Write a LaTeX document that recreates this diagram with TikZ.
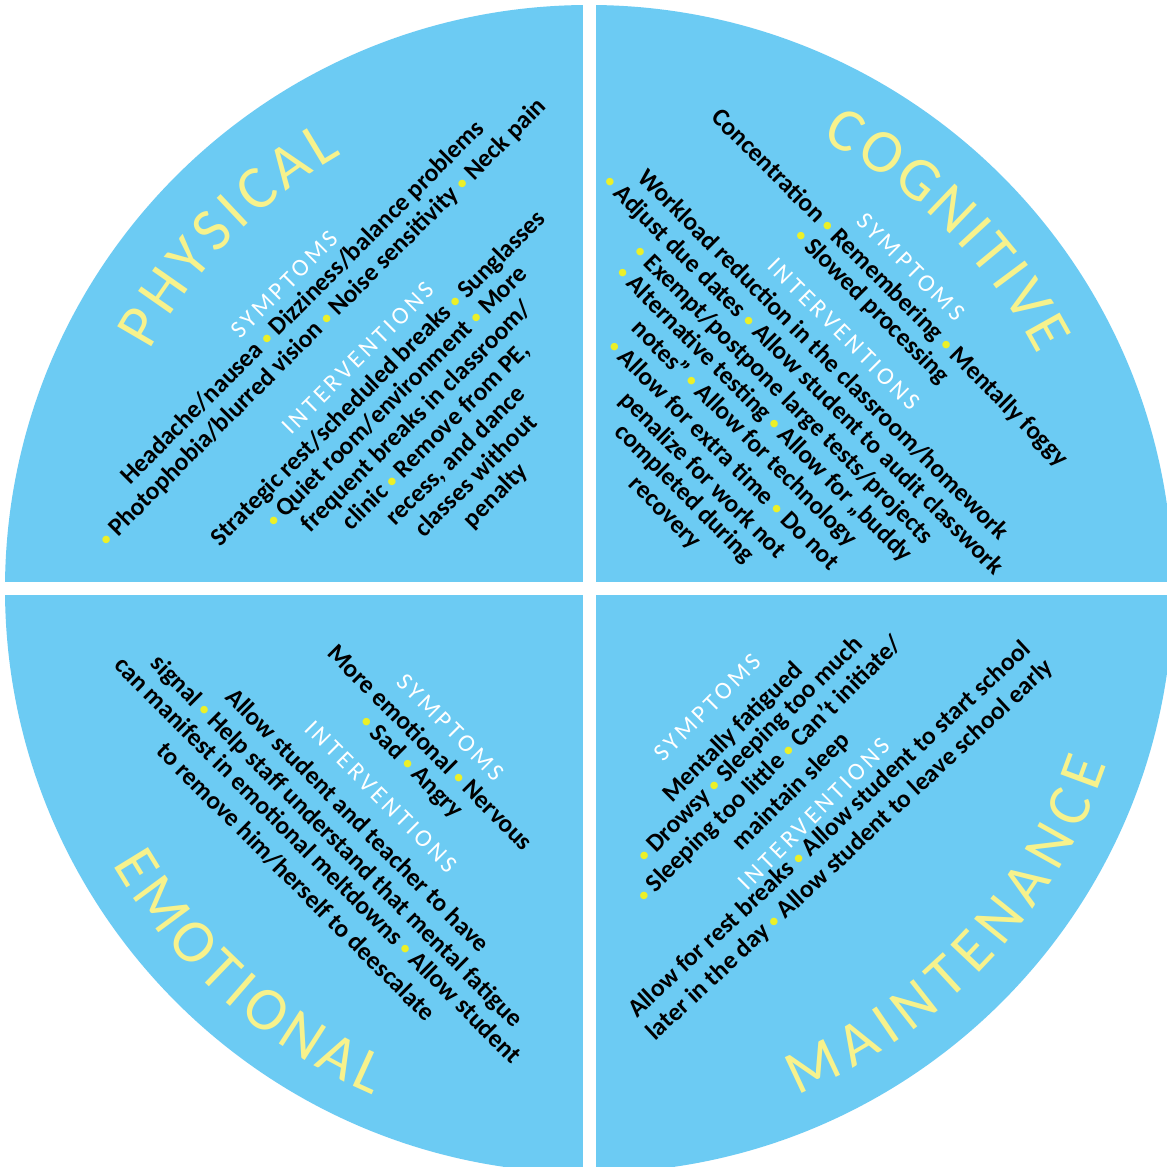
\documentclass[tikz,border=0pt]{standalone}
\usepackage{fontspec}
\setmainfont{Carlito}
\newfontfamily\headfont[LetterSpace=14]{Carlito}
\newfontfamily\titlefont{Carlito}
\usepackage{tikz}
\usetikzlibrary{decorations.text}

\definecolor{quadblue}{RGB}{108,203,243}
\definecolor{titleyellow}{RGB}{247,242,140}
\definecolor{dotyellow}{RGB}{236,240,40}

\newcommand{\bul}{{\color{dotyellow}\raisebox{.15ex}{\fontsize{5}{5}\selectfont\textbullet}}}

\tikzset{
        body/.style={font=\fontsize{7.2}{9}\selectfont\bfseries, text=black, inner sep=0pt, text height=1.5ex, text depth=.25ex},
        heading/.style={font=\headfont\fontsize{7}{8}\selectfont, text=white, inner sep=0pt, text height=1.5ex, text depth=.25ex},
        title/.style={decorate, decoration={text along path, text align={fit to path}, text color=titleyellow}}
}

\begin{document}
\begin{tikzpicture}
        \useasboundingbox (-5.89,-5.78) rectangle (5.78,5.89);
        \fill[white] (-5.89,-5.78) rectangle (5.78,5.89);

        \fill[quadblue] (0,0) circle (5.84);
        \draw[white, line width=0.13cm] (-5.9,0) -- (5.9,0);
        \draw[white, line width=0.13cm] (0,-5.9) -- (0,5.9);

        % titles along the rim
        \path[title, decoration={text={|\titlefont\fontsize{17.5}{20}\selectfont|PHYSICAL}}] (151.5:5.0) arc[start angle=151.5, end angle=119.6, radius=5.0];
        \path[title, decoration={text={|\titlefont\fontsize{17.5}{20}\selectfont|COGNITIVE}}] (62.6:5.06) arc[start angle=62.6, end angle=27.5, radius=5.06];
        \path[title, decoration={text={|\titlefont\fontsize{17.5}{20}\selectfont|EMOTIONAL}}] (210:5.5) arc[start angle=210, end angle=246.9, radius=5.5];
        \path[title, decoration={text={|\titlefont\fontsize{17.5}{20}\selectfont|MAINTENANCE}}] (-67.6:5.47) arc[start angle=-67.6, end angle=-18.7, radius=5.47];

        % physical
        \node[heading, rotate=45] (phys-sh) at (135:4.33) {SYMPTOMS};
        \node[body, rotate=45] (phys-s1) at (135:4.08) {Headache/nausea \bul{} Dizziness/balance problems};
        \node[body, rotate=45] (phys-s2) at (135:3.80) {\bul{} Photophobia/blurred vision \bul{} Noise sensitivity \bul{} Neck pain};
        \node[heading, rotate=45] (phys-ih) at (135:3.29) {INTERVENTIONS};
        \node[body, rotate=45] (phys-i1) at (135:3.01) {Strategic rest/scheduled breaks \bul{} Sunglasses};
        \node[body, rotate=45] (phys-i2) at (135:2.75) {\bul{} Quiet room/environment \bul{} More};
        \node[body, rotate=45] (phys-i3) at (135:2.47) {frequent breaks in classroom/};
        \node[body, rotate=45] (phys-i4) at (135:2.19) {clinic \bul{} Remove from PE,};
        \node[body, rotate=45] (phys-i5) at (135:1.91) {recess, and dance};
        \node[body, rotate=45] (phys-i6) at (135:1.63) {classes without};
        \node[body, rotate=45] (phys-i7) at (135:1.35) {penalty};

        % cognitive
        \node[heading, rotate=-45] (cog-sh) at (45:4.58) {SYMPTOMS};
        \node[body, rotate=-45] (cog-s1) at (45:4.29) {Concentration \bul{} Remembering \bul{} Mentally foggy};
        \node[body, rotate=-45] (cog-s2) at (45:4.03) {\bul{} Slowed processing};
        \node[heading, rotate=-45] (cog-ih) at (45:3.63) {INTERVENTIONS};
        \node[body, rotate=-45] (cog-i1) at (45:3.34) {Workload reduction in the classroom/homework};
        \node[body, rotate=-45] (cog-i2) at (45:3.06) {\bul{} Adjust due dates \bul{} Allow student to audit classwork};
        \node[body, rotate=-45] (cog-i3) at (45:2.78) {\bul{} Exempt/postpone large tests/projects};
        \node[body, rotate=-45] (cog-i4) at (45:2.51) {\bul{} Alternative testing \bul{} Allow for „buddy};
        \node[body, rotate=-45] (cog-i5) at (45:2.23) {notes” \bul{} Allow for technology};
        \node[body, rotate=-45] (cog-i6) at (45:1.93) {\bul{} Allow for extra time \bul{} Do not};
        \node[body, rotate=-45] (cog-i7) at (45:1.64) {penalize for work not};
        \node[body, rotate=-45] (cog-i8) at (45:1.38) {completed during};
        \node[body, rotate=-45] (cog-i9) at (45:1.11) {recovery};

        % emotional
        \node[heading, rotate=-45] (emo-sh) at (225:1.93) {SYMPTOMS};
        \node[body, rotate=-45] (emo-s1) at (225:2.22) {More emotional \bul{} Nervous};
        \node[body, rotate=-45] (emo-s2) at (225:2.48) {\bul{} Sad \bul{} Angry};
        \node[heading, rotate=-45] (emo-ih) at (225:2.91) {INTERVENTIONS};
        \node[body, rotate=-45] (emo-i1) at (225:3.25) {Allow student and teacher to have};
        \node[body, rotate=-45] (emo-i2) at (225:3.54) {signal \bul{} Help staff understand that mental fatigue};
        \node[body, rotate=-45] (emo-i3) at (225:3.81) {can manifest in emotional meltdowns \bul{} Allow student};
        \node[body, rotate=-45] (emo-i4) at (225:4.12) {to remove him/herself to deescalate};

        % maintenance
        \node[heading, rotate=45] (mnt-sh) at (-45:1.65) {SYMPTOMS};
        \node[body, rotate=45] (mnt-s1) at (-45:2.00) {Mentally fatigued};
        \node[body, rotate=45] (mnt-s2) at (-45:2.24) {\bul{} Drowsy \bul{} Sleeping too much};
        \node[body, rotate=45] (mnt-s3) at (-45:2.52) {\bul{} Sleeping too little \bul{} Can’t initiate/};
        \node[body, rotate=45] (mnt-s4) at (-45:2.83) {maintain sleep};
        \node[heading, rotate=45] (mnt-ih) at (-45:3.16) {INTERVENTIONS};
        \node[body, rotate=43] (mnt-i1) at (-45:3.37) {Allow for rest breaks \bul{} Allow student to start school};
        \node[body, rotate=43] (mnt-i2) at (-45:3.66) {later in the day \bul{} Allow student to leave school early};

\end{tikzpicture}
\end{document}
